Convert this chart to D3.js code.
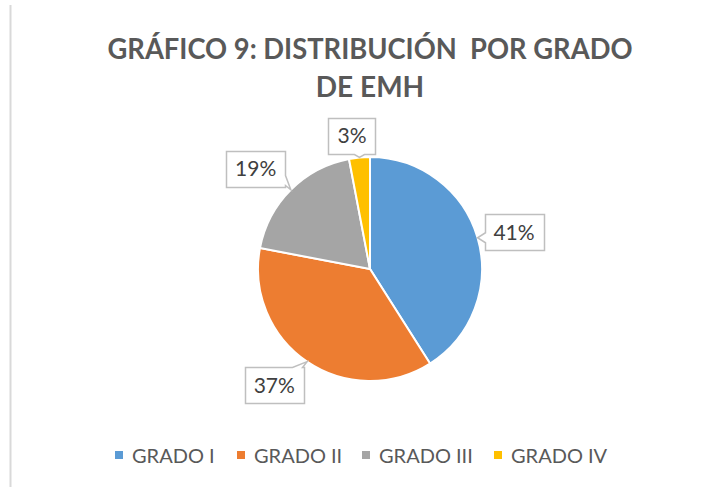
<!DOCTYPE html>
<meta charset="utf-8">
<style>
body { margin: 0; background: #fff; }
text { font-family: Lato, "Open Sans", sans-serif; }
</style>
<body>
<script src="https://cdnjs.cloudflare.com/ajax/libs/d3/7.8.5/d3.min.js"></script>
<script>
// chart values
var categories = ["GRADO I", "GRADO II", "GRADO III", "GRADO IV"];
var values = [41, 37, 19, 3];
var colors = ["#5b9bd5", "#ed7d31", "#a5a5a5", "#ffc000"];
var titleLines = ["GRÁFICO 9: DISTRIBUCIÓN  POR GRADO", "DE EMH"];

var w = 715, h = 488;
var cx = 370, cy = 269, r = 112;

// small nudges so the callout boxes land where the original put them
var labelNudge = [[1, 5], [-12, -7], [-9, 5], [-4, 15]];

var svg = d3.select("body").append("svg")
	.attr("width", w)
	.attr("height", h);

// thin frame line on the left
svg.append("line")
	.attr("x1", 10.5).attr("x2", 10.5)
	.attr("y1", 5).attr("y2", 487)
	.attr("stroke", "#d9d9d9")
	.attr("stroke-width", 2);

// title
svg.selectAll("text.title")
	.data(titleLines)
	.enter().append("text")
	.attr("class", "title")
	.attr("x", cx)
	.attr("y", function(d, i) { return 59 + i * 38; })
	.attr("text-anchor", "middle")
	.attr("fill", "#595959")
	.style("font-size", "28px")
	.style("font-weight", "bold")
	.style("white-space", "pre")
	.text(function(d) { return d; })
	.each(function(d, i) {
		var target = i == 0 ? 525 : 120;
		if (this.getComputedTextLength() > target) {
			d3.select(this).attr("textLength", target).attr("lengthAdjust", "spacingAndGlyphs");
		}
	});

var pie = d3.pie().sort(null).value(function(d) { return d; });
var arcs = pie(values);
var arc = d3.arc().innerRadius(0).outerRadius(r);

var g = svg.append("g").attr("transform", "translate(" + cx + "," + cy + ")");

g.selectAll("path.slice")
	.data(arcs)
	.enter().append("path")
	.attr("class", "slice")
	.attr("d", arc)
	.attr("fill", function(d, i) { return colors[i]; })
	.attr("stroke", "#fff")
	.attr("stroke-width", 2);

// data label callouts
function calloutPath(x0, y0, bw, bh, tx, ty) {
	var x1 = x0 + bw, y1 = y0 + bh;
	var mx = x0 + bw / 2, my = y0 + bh / 2;
	var dx = (tx - mx) / (bw / 2), dy = (ty - my) / (bh / 2);
	var half = 5, p;
	if (Math.abs(dx) > Math.abs(dy)) {
		var by = Math.max(y0 + 7, Math.min(y1 - 7, ty));
		if (dx < 0) {
			p = [[x0, y0], [x1, y0], [x1, y1], [x0, y1], [x0, by + half], [tx, ty], [x0, by - half]];
		} else {
			p = [[x0, y0], [x1, y0], [x1, by - half], [tx, ty], [x1, by + half], [x1, y1], [x0, y1]];
		}
	} else {
		var bx = Math.max(x0 + 7, Math.min(x1 - 7, tx));
		if (dy < 0) {
			p = [[x0, y0], [bx - half, y0], [tx, ty], [bx + half, y0], [x1, y0], [x1, y1], [x0, y1]];
		} else {
			p = [[x0, y0], [x1, y0], [x1, y1], [bx + half, y1], [tx, ty], [bx - half, y1], [x0, y1]];
		}
	}
	return "M" + p.map(function(q) { return q[0] + "," + q[1]; }).join("L") + "Z";
}

var labels = svg.selectAll("g.lbl")
	.data(arcs)
	.enter().append("g")
	.attr("class", "lbl");

labels.each(function(d, i) {
	var sel = d3.select(this);
	var mid = (d.startAngle + d.endAngle) / 2;
	var tipX = cx + r * Math.sin(mid), tipY = cy - r * Math.cos(mid);
	var lx = cx + r * 1.33 * Math.sin(mid) + labelNudge[i][0];
	var ly = cy - r * 1.33 * Math.cos(mid) + labelNudge[i][1];
	var t = sel.append("text")
		.attr("x", lx)
		.attr("y", ly + 7.5)
		.attr("text-anchor", "middle")
		.attr("fill", "#404040")
		.style("font-size", "21px")
		.text(values[i] + "%");
	var tw = t.node().getComputedTextLength();
	var bw = Math.round(tw + 18), bh = 36;
	var x0 = Math.round(lx - bw / 2) + 0.5, y0 = Math.round(ly - bh / 2) + 0.5;
	sel.insert("path", "text")
		.attr("d", calloutPath(x0, y0, bw, bh, tipX, tipY))
		.attr("fill", "#fff")
		.attr("stroke", "#bfbfbf")
		.attr("stroke-width", 1.5);
});

// legend
var legendX = [115, 237, 362, 494];
var leg = svg.selectAll("g.legend")
	.data(categories)
	.enter().append("g")
	.attr("class", "legend")
	.attr("transform", function(d, i) { return "translate(" + legendX[i] + ",451)"; });

leg.append("rect")
	.attr("width", 8).attr("height", 8)
	.attr("fill", function(d, i) { return colors[i]; });

leg.append("text")
	.attr("x", 17)
	.attr("y", 11.5)
	.attr("fill", "#595959")
	.style("font-size", "20px")
	.text(function(d) { return d; });
</script>
</body>
